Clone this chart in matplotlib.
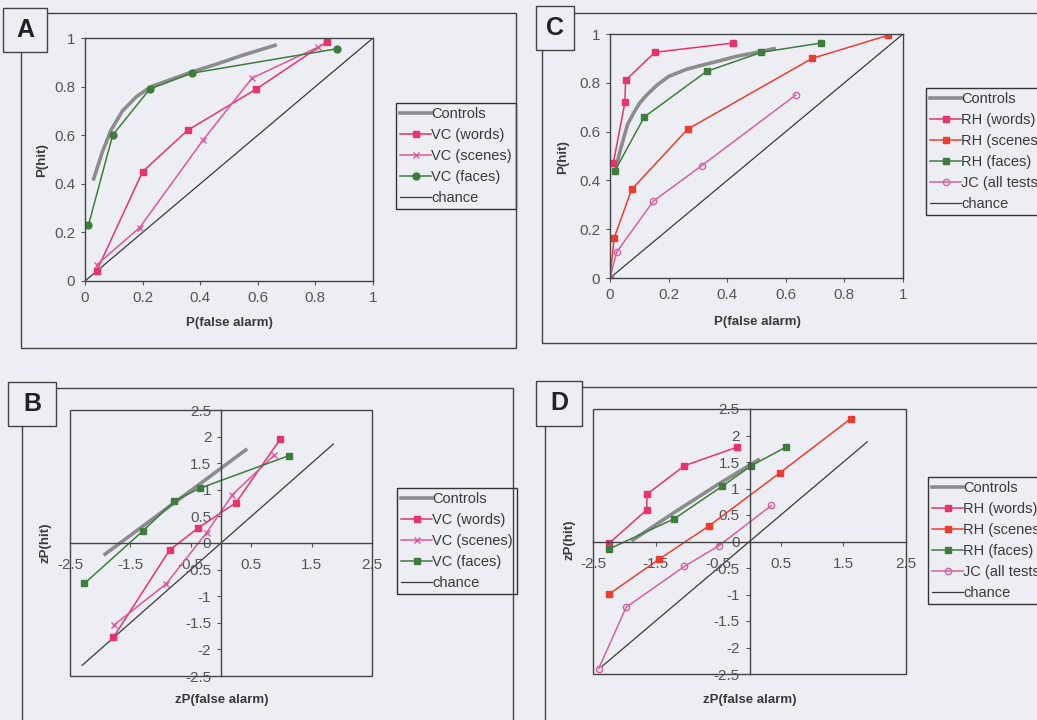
import matplotlib
matplotlib.use("Agg")
import matplotlib.pyplot as plt
from matplotlib.patches import Rectangle

plt.rcParams['font.family'] = ['Liberation Sans', 'DejaVu Sans']
plt.rcParams['axes.unicode_minus'] = False

W, H = 1037, 720
BG = '#eceef3'
INK = '#3a3a3a'

# kolory serii
C_CTRL = '#8c8c8c'
C_WORDS = '#e8336b'
C_SCENES_A = '#e0569a'
C_SCENES_C = '#ec3d2e'
C_FACES = '#3f7d3f'
C_JC = '#d9609f'

# === Panel A: ROC, VC ===
a_ctrl_x = [0.03, 0.06, 0.09, 0.13, 0.18, 0.23, 0.30, 0.37, 0.45, 0.55, 0.66]
a_ctrl_y = [0.42, 0.53, 0.62, 0.70, 0.76, 0.80, 0.83, 0.86, 0.89, 0.93, 0.97]
a_words_x = [0.04, 0.20, 0.356, 0.595, 0.84]
a_words_y = [0.04, 0.45, 0.62, 0.79, 0.985]
a_scenes_x = [0.04, 0.19, 0.41, 0.58, 0.81]
a_scenes_y = [0.066, 0.22, 0.58, 0.835, 0.963]
a_faces_x = [0.012, 0.096, 0.225, 0.37, 0.876]
a_faces_y = [0.23, 0.60, 0.79, 0.855, 0.956]

# === Panel C: ROC, RH i JC ===
c_ctrl_x = [0.017, 0.03, 0.045, 0.06, 0.08, 0.10, 0.125, 0.16, 0.20, 0.26, 0.32, 0.38, 0.43, 0.49, 0.56]
c_ctrl_y = [0.43, 0.50, 0.566, 0.63, 0.675, 0.715, 0.75, 0.79, 0.826, 0.855, 0.874, 0.892, 0.908, 0.922, 0.94]
c_words_x = [0.011, 0.051, 0.053, 0.153, 0.42]
c_words_y = [0.47, 0.72, 0.81, 0.925, 0.963]
c_scenes_x = [0.0, 0.014, 0.074, 0.265, 0.69, 0.95]
c_scenes_y = [0.0, 0.164, 0.363, 0.61, 0.90, 0.995]
c_faces_x = [0.017, 0.117, 0.33, 0.517, 0.72]
c_faces_y = [0.44, 0.66, 0.847, 0.925, 0.963]
c_jc_x = [0.0, 0.023, 0.148, 0.3125, 0.634]
c_jc_y = [0.0, 0.107, 0.315, 0.46, 0.75]

# === Panel B: zROC, VC ===
b_ctrl_x = [-1.92, 0.41]
b_ctrl_y = [-0.21, 1.75]
b_words_x = [-1.78, -0.85, -0.38, 0.25, 0.98]
b_words_y = [-1.77, -0.13, 0.28, 0.76, 1.95]
b_scenes_x = [-1.77, -0.91, -0.24, 0.19, 0.88]
b_scenes_y = [-1.54, -0.77, 0.19, 0.91, 1.65]
b_faces_x = [-2.26, -1.29, -0.77, -0.35, 1.12]
b_faces_y = [-0.76, 0.23, 0.79, 1.03, 1.64]
b_chance = [-2.3, 1.86]

# === Panel D: zROC, RH i JC ===
d_ctrl_x = [-1.86, -1.2, -0.5, 0.14]
d_ctrl_y = [0.03, 0.55, 1.08, 1.54]
d_words_x = [-2.24, -1.64, -1.64, -1.04, -0.20]
d_words_y = [-0.03, 0.60, 0.89, 1.43, 1.78]
d_scenes_x = [-2.24, -1.44, -0.64, 0.48, 1.62]
d_scenes_y = [-0.99, -0.33, 0.30, 1.29, 2.32]
d_faces_x = [-2.24, -1.20, -0.44, 0.03, 0.58]
d_faces_y = [-0.14, 0.43, 1.04, 1.43, 1.78]
d_jc_x = [-2.41, -1.97, -1.04, -0.49, 0.35]
d_jc_y = [-2.40, -1.24, -0.47, -0.08, 0.68]
d_chance = [-2.36, 1.88]

roc_ticks = [0, 0.2, 0.4, 0.6, 0.8, 1]
roc_labels = ['0', '0.2', '0.4', '0.6', '0.8', '1']
z_xticks = [-2.5, -1.5, -0.5, 0.5, 1.5, 2.5]
z_xlabels = ['-2.5', '-1.5', '-0.5', '0.5', '1.5', '2.5']
z_yticks = [-2.5, -2, -1.5, -1, -0.5, 0, 0.5, 1, 1.5, 2, 2.5]
z_ylabels = ['-2.5', '-2', '-1.5', '-1', '-0.5', '0', '0.5', '1', '1.5', '2', '2.5']

TICK_FS = 11
LEG_FS = 10.5
LAB_FS = 9.5

fig = plt.figure(figsize=(W / 100, H / 100), dpi=100)
fig.patch.set_facecolor(BG)


def px_axes(x0, y0, x1, y1):
    ax = fig.add_axes([x0 / W, 1 - y1 / H, (x1 - x0) / W, (y1 - y0) / H])
    ax.set_facecolor('none')
    return ax


def frame(x0, y0, x1, y1, letter, lx0, ly0, lx1, ly1):
    fig.patches.append(Rectangle((x0 / W, 1 - y1 / H), (x1 - x0) / W, (y1 - y0) / H,
                                 transform=fig.transFigure, fill=False, ec='#444444', lw=1.0))
    fig.patches.append(Rectangle((lx0 / W, 1 - ly1 / H), (lx1 - lx0) / W, (ly1 - ly0) / H,
                                 transform=fig.transFigure, fc=BG, ec='#444444', lw=1.0, zorder=3))
    fig.text((lx0 + lx1) / 2 / W, 1 - (ly0 + ly1) / 2 / H, letter, ha='center', va='center',
             fontsize=18, fontweight='bold', color='#222222', zorder=4)


def series(ax, x, y, color, marker, label, mfc=None, ms=5):
    ax.plot(x, y, '-', color=color, lw=1.1, marker=marker, ms=ms,
            mfc=mfc if mfc else color, mec=color, mew=1.0, label=label)


def ordered_legend(ax, names, x0, y0):
    h, l = ax.get_legend_handles_labels()
    idx = [l.index(n) for n in names]
    leg = ax.legend([h[i] for i in idx], [l[i] for i in idx], loc='upper left',
                    bbox_to_anchor=(x0 / W, 1 - y0 / H), bbox_transform=fig.transFigure,
                    fontsize=LEG_FS, frameon=True, fancybox=False, handlelength=2.1,
                    handletextpad=0.0, borderpad=0.3, labelspacing=0.47, borderaxespad=0)
    leg.get_frame().set_edgecolor('#333333')
    leg.get_frame().set_linewidth(1.0)
    leg.get_frame().set_facecolor(BG)
    leg.get_frame().set_alpha(1)
    for t in leg.get_texts():
        t.set_color(INK)


def ax_labels(ax, ylab, yx, yy, xlab, xx, xy):
    fig.text(yx / W, 1 - yy / H, ylab, rotation=90, ha='center', va='center',
             fontsize=LAB_FS, fontweight='bold', color=INK)
    fig.text(xx / W, 1 - xy / H, xlab, ha='center', va='center',
             fontsize=LAB_FS, fontweight='bold', color=INK)


def roc_axes(ax):
    ax.set_xlim(0, 1)
    ax.set_ylim(0, 1)
    ax.set_xticks(roc_ticks, roc_labels)
    ax.set_yticks(roc_ticks, roc_labels)
    ax.tick_params(direction='out', length=3, width=0.8, colors='#555555', labelsize=TICK_FS,
                   labelcolor='#555555', pad=4)
    for s in ax.spines.values():
        s.set_color('#444444')
        s.set_linewidth(1.0)
    ax.plot([0, 1], [0, 1], color='#3a3a3a', lw=0.9, label='chance', zorder=1)


def zroc_axes(ax):
    ax.set_xlim(-2.5, 2.5)
    ax.set_ylim(-2.5, 2.5)
    ax.spines['left'].set_position('zero')
    ax.spines['bottom'].set_position('zero')
    ax.spines['top'].set_visible(False)
    ax.spines['right'].set_visible(False)
    for s in ('left', 'bottom'):
        ax.spines[s].set_color('#444444')
        ax.spines[s].set_linewidth(1.0)
    ax.add_patch(Rectangle((0, 0), 1, 1, transform=ax.transAxes, fill=False,
                           ec='#444444', lw=1.0, clip_on=False))
    ax.set_xticks(z_xticks, z_xlabels)
    ax.set_yticks(z_yticks, z_ylabels)
    ax.tick_params(direction='out', length=3, width=0.8, colors='#555555', labelsize=TICK_FS,
                   labelcolor='#555555', pad=4)
    ax.tick_params(axis='x', pad=8)


# --- A ---
frame(21, 13, 516, 348, 'A', 3, 8, 47, 52)
ax = px_axes(85, 38, 373, 281)
ax.plot(a_ctrl_x, a_ctrl_y, color=C_CTRL, lw=2.6, label='Controls', zorder=2)
series(ax, a_words_x, a_words_y, C_WORDS, 's', 'VC (words)')
series(ax, a_scenes_x, a_scenes_y, C_SCENES_A, 'x', 'VC (scenes)')
series(ax, a_faces_x, a_faces_y, C_FACES, 'o', 'VC (faces)')
roc_axes(ax)
ordered_legend(ax, ['Controls', 'VC (words)', 'VC (scenes)', 'VC (faces)', 'chance'], 396, 103)
ax_labels(ax, 'P(hit)', 42, 160, 'P(false alarm)', 229, 323)

# --- C ---
frame(542, 13, 1060, 343, 'C', 536, 6, 574, 50)
ax = px_axes(610, 34, 903, 278)
ax.plot(c_ctrl_x, c_ctrl_y, color=C_CTRL, lw=2.6, label='Controls', zorder=2)
series(ax, c_words_x, c_words_y, C_WORDS, 's', 'RH (words)')
series(ax, c_scenes_x, c_scenes_y, C_SCENES_C, 's', 'RH (scenes)')
series(ax, c_faces_x, c_faces_y, C_FACES, 's', 'RH (faces)')
series(ax, c_jc_x, c_jc_y, C_JC, 'o', 'JC (all tests)', mfc='none', ms=4.5)
roc_axes(ax)
ordered_legend(ax, ['Controls', 'RH (words)', 'RH (scenes)', 'RH (faces)', 'JC (all tests)', 'chance'], 926, 88)
ax_labels(ax, 'P(hit)', 563, 157, 'P(false alarm)', 757, 322)

# --- B ---
frame(22, 388, 513, 760, 'B', 8, 382, 56, 426)
ax = px_axes(70, 410, 372, 676)
ax.plot(b_ctrl_x, b_ctrl_y, color=C_CTRL, lw=2.6, label='Controls', zorder=2)
series(ax, b_words_x, b_words_y, C_WORDS, 's', 'VC (words)')
series(ax, b_scenes_x, b_scenes_y, C_SCENES_A, 'x', 'VC (scenes)')
series(ax, b_faces_x, b_faces_y, C_FACES, 's', 'VC (faces)')
ax.plot(b_chance, b_chance, color='#3a3a3a', lw=0.9, label='chance', zorder=1)
zroc_axes(ax)
ordered_legend(ax, ['Controls', 'VC (words)', 'VC (scenes)', 'VC (faces)', 'chance'], 397, 488)
ax_labels(ax, 'zP(hit)', 45, 543, 'zP(false alarm)', 222, 700)

# --- D ---
frame(545, 387, 1060, 760, 'D', 536, 381, 582, 426)
ax = px_axes(593, 409, 906, 674)
ax.plot(d_ctrl_x, d_ctrl_y, color=C_CTRL, lw=2.6, label='Controls', zorder=2)
series(ax, d_words_x, d_words_y, C_WORDS, 's', 'RH (words)')
series(ax, d_scenes_x, d_scenes_y, C_SCENES_C, 's', 'RH (scenes)')
series(ax, d_faces_x, d_faces_y, C_FACES, 's', 'RH (faces)')
series(ax, d_jc_x, d_jc_y, C_JC, 'o', 'JC (all tests)', mfc='none', ms=4.5)
ax.plot(d_chance, d_chance, color='#3a3a3a', lw=0.9, label='chance', zorder=1)
zroc_axes(ax)
ordered_legend(ax, ['Controls', 'RH (words)', 'RH (scenes)', 'RH (faces)', 'JC (all tests)', 'chance'], 928, 477)
ax_labels(ax, 'zP(hit)', 569, 540, 'zP(false alarm)', 750, 700)

fig.savefig('out.png', dpi=100, facecolor=BG)
